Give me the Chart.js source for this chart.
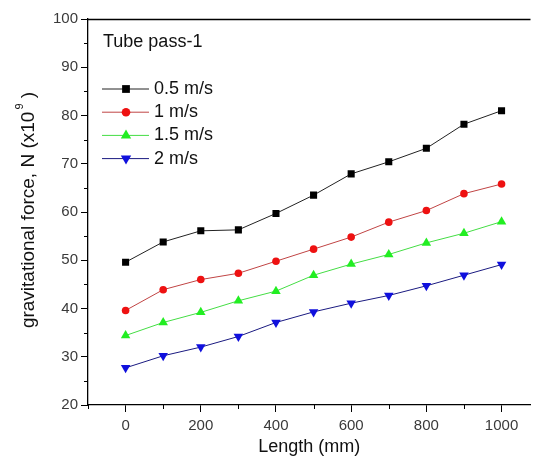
<!DOCTYPE html>
<html>
<head>
<meta charset="utf-8">
<script src="https://cdn.jsdelivr.net/npm/chart.js@4"></script>
<style>
  html, body { margin: 0; padding: 0; background: #fff; }
  #wrap { width: 536px; height: 465px; }
</style>
</head>
<body>
<div id="wrap"><canvas id="chart" width="536" height="465"></canvas></div>
<script>
const lengths = [0, 100, 200, 300, 400, 500, 600, 700, 800, 900, 1000];
const force05 = [49.6, 53.8, 56.1, 56.3, 59.7, 63.5, 67.9, 70.4, 73.2, 78.2, 81.0];
const force1 = [39.6, 43.9, 46.0, 47.3, 49.8, 52.3, 54.8, 57.9, 60.3, 63.8, 65.8];
const force15 = [34.4, 37.1, 39.2, 41.6, 43.6, 46.9, 49.2, 51.2, 53.6, 55.6, 58.0];
const force2 = [27.7, 30.2, 32.0, 34.2, 37.1, 39.3, 41.1, 42.7, 44.7, 46.9, 49.1];
const seriesNames = ["0.5 m/s", "1 m/s", "1.5 m/s", "2 m/s"];
const xTicks = [0, 200, 400, 600, 800, 1000];
const xMinor = [-100, 100, 300, 500, 700, 900];
const yTicks = [20, 30, 40, 50, 60, 70, 80, 90, 100];
const yMinor = [25, 35, 45, 55, 65, 75, 85, 95];

const font = "'Liberation Sans', Arial, sans-serif";

function pts(ys) {
  return lengths.map((x, i) => ({ x: x, y: ys[i] }));
}

const styles = [
  { line: "#222222", fill: "#000000", point: "rect", radius: 5, rotation: 0 },
  { line: "#c04444", fill: "#ee1111", point: "circle", radius: 3.8, rotation: 0 },
  { line: "#44dd44", fill: "#22ee22", point: "triangle", radius: 5.5, rotation: 0 },
  { line: "#1a1a80", fill: "#1010dd", point: "triangle", radius: 5.5, rotation: 180 },
];

const allValues = [force05, force1, force15, force2];

const datasets = allValues.map((vals, i) => ({
  label: seriesNames[i],
  data: pts(vals),
  borderColor: styles[i].line,
  borderWidth: 1,
  backgroundColor: styles[i].fill,
  pointBackgroundColor: styles[i].fill,
  pointBorderColor: styles[i].fill,
  pointBorderWidth: 0,
  pointStyle: styles[i].point,
  pointRadius: styles[i].radius,
  pointRotation: styles[i].rotation,
  tension: 0,
}));

/* frame, minor ticks, axis titles and the inside legend */
const extras = {
  id: "extras",
  afterDraw(chart) {
    const ctx = chart.ctx;
    const area = chart.chartArea;
    const xs = chart.scales.x;
    const ys = chart.scales.y;
    ctx.save();
    ctx.strokeStyle = "#000";
    ctx.lineWidth = 1.3;
    ctx.beginPath();
    ctx.moveTo(area.left, area.top + 0.5);
    ctx.lineTo(area.right, area.top + 0.5);
    ctx.stroke();

    ctx.lineWidth = 1;
    ctx.beginPath();
    xMinor.forEach(v => {
      const px = Math.round(xs.getPixelForValue(v)) + 0.5;
      ctx.moveTo(px, area.bottom);
      ctx.lineTo(px, area.bottom + 4);
    });
    yMinor.forEach(v => {
      const py = Math.round(ys.getPixelForValue(v)) + 0.5;
      ctx.moveTo(area.left, py);
      ctx.lineTo(area.left - 4, py);
    });
    ctx.stroke();

    // x title
    ctx.fillStyle = "#111";
    ctx.textBaseline = "middle";
    ctx.textAlign = "center";
    ctx.font = "18px " + font;
    ctx.fillText("Length (mm)", (area.left + area.right) / 2, 447);

    // y title with superscript
    ctx.save();
    ctx.translate(29, 210);
    ctx.rotate(-Math.PI / 2);
    const main = "gravitational force, N (x10";
    const tail = " )";
    ctx.font = "19px " + font;
    const wMain = ctx.measureText(main).width;
    const wTail = ctx.measureText(tail).width;
    ctx.font = "11px " + font;
    const wSup = ctx.measureText("9").width + 2;
    const start = -(wMain + wSup + wTail) / 2;
    ctx.textAlign = "left";
    ctx.font = "19px " + font;
    ctx.fillText(main, start, 0);
    ctx.font = "11px " + font;
    ctx.fillText("9", start + wMain + 2, -9);
    ctx.font = "19px " + font;
    ctx.fillText(tail, start + wMain + wSup, 0);
    ctx.restore();

    ctx.textAlign = "left";
    ctx.font = "18px " + font;
    ctx.fillText("Tube pass-1", 103, 42);

    seriesNames.forEach((name, i) => {
      const y = 89 + i * 23.2;
      const s = styles[i];
      ctx.strokeStyle = s.line;
      ctx.lineWidth = 1;
      ctx.beginPath();
      ctx.moveTo(102, y);
      ctx.lineTo(149, y);
      ctx.stroke();
      ctx.fillStyle = s.fill;
      ctx.strokeStyle = s.fill;
      Chart.helpers.drawPoint(ctx, {
        pointStyle: s.point,
        radius: s.radius + 0.5,
        rotation: s.rotation,
        borderWidth: 0,
      }, 126, y);
      ctx.fillStyle = "#111";
      ctx.font = "18px " + font;
      ctx.fillText(name, 154, y);
    });
    ctx.restore();
  },
};

new Chart(document.getElementById("chart").getContext("2d"), {
  type: "line",
  data: { datasets: datasets },
  options: {
    responsive: false,
    animation: false,
    layout: { padding: { top: 19, right: 0, left: 0, bottom: 0 } },
    plugins: {
      legend: { display: false },
      tooltip: { enabled: false },
    },
    scales: {
      x: {
        type: "linear",
        min: -100,
        max: 1077,
        afterBuildTicks: (scale) => {
          scale.ticks = xTicks.map(v => ({ value: v }));
        },
        afterFit: (scale) => {
          scale.height = 60;
        },
        border: { display: true, color: "#000", width: 1.3 },
        grid: { display: true, drawOnChartArea: false, drawTicks: true, tickLength: 7, tickColor: "#000" },
        ticks: {
          color: "#3a3a3a",
          font: { family: font, size: 15 },
          padding: 5,
          maxRotation: 0,
          autoSkip: false,
          callback: (v) => String(v),
        },
      },
      y: {
        type: "linear",
        min: 20,
        max: 100,
        afterBuildTicks: (scale) => {
          scale.ticks = yTicks.map(v => ({ value: v }));
        },
        afterFit: (scale) => {
          scale.width = 88;
        },
        border: { display: true, color: "#000", width: 1.3 },
        grid: { display: true, drawOnChartArea: false, drawTicks: true, tickLength: 7, tickColor: "#000" },
        ticks: {
          color: "#3a3a3a",
          font: { family: font, size: 15 },
          padding: 3,
          autoSkip: false,
          callback: (v) => String(v),
        },
      },
    },
  },
  plugins: [extras],
});
</script>
</body>
</html>
